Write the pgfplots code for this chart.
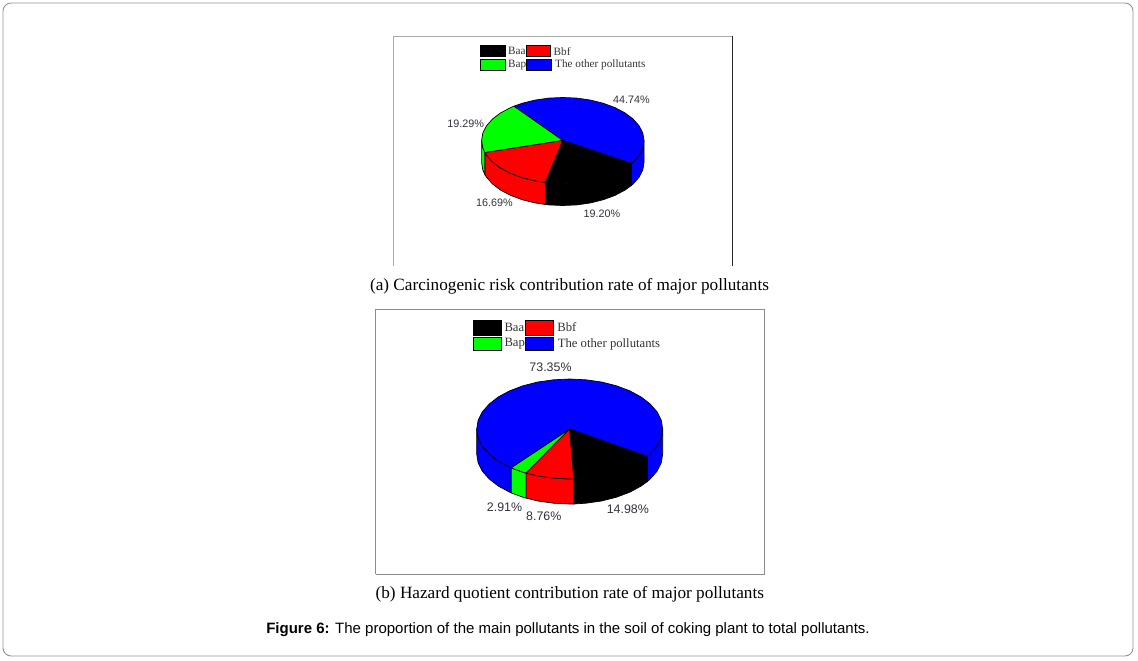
\documentclass[border=0pt]{standalone}
\usepackage{pgfplots}
\pgfplotsset{compat=1.18}
\usepackage{fontspec}
\setmainfont{Liberation Serif}
\newfontfamily\arial{Liberation Sans}
\definecolor{pblue}{RGB}{0,0,255}
\definecolor{pred}{RGB}{255,0,0}
\definecolor{pgreen}{RGB}{0,255,0}
\definecolor{frame}{RGB}{170,170,170}
\definecolor{lab}{RGB}{50,50,60}
\newcommand{\fs}[1]{\fontsize{#1}{#1}\selectfont}
\begin{document}
\begin{tikzpicture}
\begin{axis}[
  scale only axis, width=1138pt, height=661pt,
  xmin=0, xmax=1138, ymin=0, ymax=661, y dir=reverse,
  axis lines=none, ticks=none,
  every axis plot/.append style={line width=0.7pt, draw=black, forget plot},
]
\path (axis cs:0,0) rectangle (axis cs:1138,661);
% outer frame
\draw[draw=gray!85, line width=0.9pt, rounded corners=8pt] (axis cs:3,3) rectangle (axis cs:1133,656);
% panel frames
\addplot[draw=frame, line width=0.9pt] coordinates {(393,266) (393,36.5) (732,36.5)};
\addplot[draw=black!85, line width=0.9pt] coordinates {(732,36.5) (732,266)};
\addplot[draw=gray!90, line width=0.9pt] coordinates {(375.5,574) (375.5,309) (764,309) (764,574) (375.5,574)};

% ---------- pie a: side walls
\addplot[fill=pgreen] coordinates {(481.6,140.5) (482.8,148.0) (484.9,152.6) (484.9,174.6) (482.8,170.0) (481.6,162.5)} -- cycle;
\addplot[fill=pred] coordinates {(484.9,152.6) (486.5,155.2) (492.5,162.0) (500.6,168.1) (510.6,173.4) (522.2,177.7) (535.0,180.9) (545.4,182.5) (545.4,204.5) (535.0,202.9) (522.2,199.7) (510.6,195.4) (500.6,190.1) (492.5,184.0) (486.5,177.2) (484.9,174.6)} -- cycle;
\addplot[fill=black] coordinates {(545.4,182.5) (548.7,182.9) (562.8,183.5) (576.9,182.9) (590.6,180.9) (603.4,177.7) (615.0,173.4) (625.0,168.1) (631.5,163.4) (631.5,185.4) (625.0,190.1) (615.0,195.4) (603.4,199.7) (590.6,202.9) (576.9,204.9) (562.8,205.5) (548.7,204.9) (545.4,204.5)} -- cycle;
\addplot[fill=pblue] coordinates {(631.5,163.4) (633.1,162.0) (639.1,155.2) (642.8,148.0) (644.0,140.5) (644.0,162.5) (642.8,170.0) (639.1,177.2) (633.1,184.0) (631.5,185.4)} -- cycle;
% pie a: top faces
\addplot[fill=pblue] coordinates {(562.8,140.5) (631.5,163.4) (633.1,162.0) (639.1,155.2) (642.8,148.0) (644.0,140.5) (642.8,133.0) (639.1,125.8) (633.1,119.0) (625.0,112.9) (615.0,107.6) (603.4,103.3) (590.6,100.1) (576.9,98.1) (562.8,97.5) (548.7,98.1) (535.0,100.1) (522.2,103.3) (513.9,106.2)} -- cycle;
\addplot[fill=pgreen] coordinates {(562.8,140.5) (513.9,106.2) (510.6,107.6) (500.6,112.9) (492.5,119.0) (486.5,125.8) (482.8,133.0) (481.6,140.5) (482.8,148.0) (484.9,152.6)} -- cycle;
\addplot[fill=pred] coordinates {(562.8,140.5) (484.9,152.6) (486.5,155.2) (492.5,162.0) (500.6,168.1) (510.6,173.4) (522.2,177.7) (535.0,180.9) (545.4,182.5)} -- cycle;
\addplot[fill=black] coordinates {(562.8,140.5) (545.4,182.5) (548.7,182.9) (562.8,183.5) (576.9,182.9) (590.6,180.9) (603.4,177.7) (615.0,173.4) (625.0,168.1) (631.5,163.4)} -- cycle;
% pie a: legend swatches
\addplot[fill=black] coordinates {(480,45.7) (505,45.7) (505,56.7) (480,56.7)} -- cycle;
\addplot[fill=pred] coordinates {(526.7,45.7) (550.7,45.7) (550.7,56.7) (526.7,56.7)} -- cycle;
\addplot[fill=pgreen] coordinates {(480,59.3) (505,59.3) (505,70.3) (480,70.3)} -- cycle;
\addplot[fill=pblue] coordinates {(526.7,59.3) (551.7,59.3) (551.7,70.3) (526.7,70.3)} -- cycle;

% ---------- pie b: side walls
\addplot[fill=pblue] coordinates {(476.7,429) (478.1,437.7) (482.3,446.1) (489.2,454) (498.5,461.2) (509.9,467.3) (511.2,467.9) (511.2,492.9) (509.9,492.3) (498.5,486.2) (489.2,479) (482.3,471.1) (478.1,462.7) (476.7,454)} -- cycle;
\addplot[fill=pgreen] coordinates {(511.2,467.9) (523.2,472.3) (526.1,473.1) (526.1,498.1) (523.2,497.3) (511.2,492.9)} -- cycle;
\addplot[fill=pred] coordinates {(526.1,473.1) (537.9,476) (553.5,478.2) (569.7,479) (573.9,479) (573.9,504) (569.7,504) (553.5,503.2) (537.9,501) (526.1,498.1)} -- cycle;
\addplot[fill=black] coordinates {(573.9,479) (585.9,478.2) (601.5,476) (616.2,472.3) (629.5,467.3) (640.9,461.2) (647.4,456.5) (647.4,481.5) (640.9,486.2) (629.5,492.3) (616.2,497.3) (601.5,501) (585.9,503.2) (573.9,504)} -- cycle;
\addplot[fill=pblue] coordinates {(647.4,456.5) (650.2,454) (657.1,446.1) (661.3,437.7) (662.7,429) (662.7,454) (661.3,462.7) (657.1,471.1) (650.2,479) (647.4,481.5)} -- cycle;
% pie b: top faces
\addplot[fill=pblue] coordinates {(569.7,429) (647.4,456.5) (650.2,454) (657.1,446.1) (661.3,437.7) (662.7,429) (661.3,420.3) (657.1,411.9) (650.2,404) (640.9,396.8) (629.5,390.7) (616.2,385.7) (601.5,382) (585.9,379.8) (569.7,379) (553.5,379.8) (537.9,382) (523.2,385.7) (509.9,390.7) (498.5,396.8) (489.2,404) (482.3,411.9) (478.1,420.3) (476.7,429) (478.1,437.7) (482.3,446.1) (489.2,454) (498.5,461.2) (509.9,467.3) (511.2,467.9)} -- cycle;
\addplot[fill=pgreen] coordinates {(569.7,429) (511.2,467.9) (523.2,472.3) (526.1,473.1)} -- cycle;
\addplot[fill=pred] coordinates {(569.7,429) (526.1,473.1) (537.9,476) (553.5,478.2) (569.7,479) (573.9,479)} -- cycle;
\addplot[fill=black] coordinates {(569.7,429) (573.9,479) (585.9,478.2) (601.5,476) (616.2,472.3) (629.5,467.3) (640.9,461.2) (647.4,456.5)} -- cycle;
% pie b: legend swatches
\addplot[fill=black] coordinates {(473.3,320.7) (501,320.7) (501,335) (473.3,335)} -- cycle;
\addplot[fill=pred] coordinates {(525.7,320.7) (553,320.7) (553,335) (525.7,335)} -- cycle;
\addplot[fill=pgreen] coordinates {(473.3,337.3) (501,337.3) (501,350.3) (473.3,350.3)} -- cycle;
\addplot[fill=pblue] coordinates {(525.7,337.3) (553,337.3) (553,350.3) (525.7,350.3)} -- cycle;

% legend text a
\tikzset{lt/.style={anchor=west, inner sep=0pt, text=black!80}}
\node[lt] at (axis cs:508,51.3) {\fs{11.2}Baa};
\node[lt] at (axis cs:553.5,51.3) {\fs{11.2}Bbf};
\node[lt] at (axis cs:508,65) {\fs{11.2}Bap};
\node[lt] at (axis cs:555,65) {\fs{11.2}The other pollutants};
% legend text b
\node[lt] at (axis cs:504.3,327.5) {\fs{12.7}Baa};
\node[lt] at (axis cs:557.2,327.5) {\fs{12.7}Bbf};
\node[lt] at (axis cs:504.3,344) {\fs{12.7}Bap};
\node[lt] at (axis cs:557.6,344) {\fs{12.7}The other pollutants};
% value labels
\tikzset{vl/.style={inner sep=0pt, text=lab, font=\arial}}
\node[vl] at (axis cs:631.5,100) {\fs{10.8}44.74\%};
\node[vl] at (axis cs:465.7,124) {\fs{10.8}19.29\%};
\node[vl] at (axis cs:494.5,202.6) {\fs{10.8}16.69\%};
\node[vl] at (axis cs:601.9,213.6) {\fs{10.8}19.20\%};
\node[vl] at (axis cs:550.5,366.8) {\fs{12.4}73.35\%};
\node[vl] at (axis cs:504.5,506.8) {\fs{12.4}2.91\%};
\node[vl] at (axis cs:543.8,515.8) {\fs{12.4}8.76\%};
\node[vl] at (axis cs:627.8,509.2) {\fs{12.4}14.98\%};
% captions
\node[inner sep=0pt, text=black] at (axis cs:569.5,286.3) {\fs{17.2}(a) Carcinogenic risk contribution rate of major pollutants};
\node[inner sep=0pt, text=black] at (axis cs:569.8,594.3) {\fs{17.2}(b) Hazard quotient contribution rate of major pollutants};
\node[inner sep=0pt, text=black] at (axis cs:568,629.8) {\arial\fs{15}\textbf{Figure 6:} The proportion of the main pollutants in the soil of coking plant to total pollutants.};
\end{axis}
\end{tikzpicture}
\end{document}
